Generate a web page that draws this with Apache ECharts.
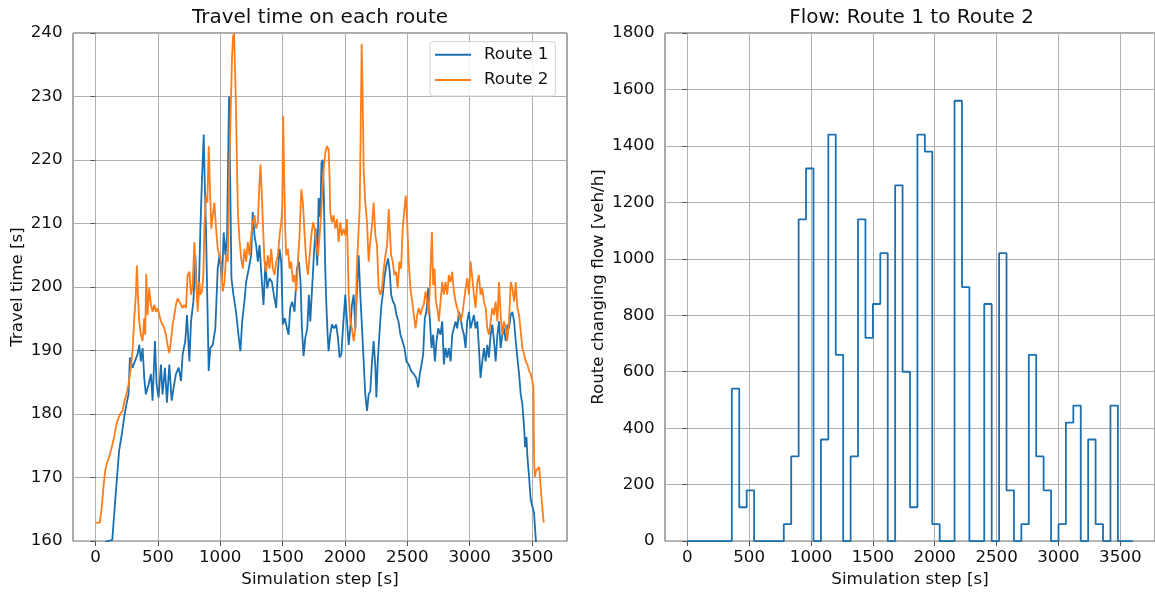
<!DOCTYPE html>
<html><head><meta charset="utf-8">
<script src="https://cdn.jsdelivr.net/npm/echarts@6/dist/echarts.min.js"></script>
<style>html,body{margin:0;padding:0;background:#fff}#c{width:1155px;height:593px}</style>
</head><body><div id="c"></div><script>
// Travel time on each route: [simulation step s, travel time s]
const route1 = [[0,155.0],[85,159.9],[135,160.2],[150,164.2],[171,169.6],[190,174.3],[212,176.9],[230,179.5],[249,181.6],[265,183.1],[276,188.9],[297,187.3],[316,188.3],[337,189.4],[351,190.9],[364,188.3],[378,190.4],[391,185.7],[404,183.1],[426,184.7],[445,186.3],[458,182.1],[477,191.5],[490,184.7],[506,182.6],[525,187.8],[538,183.1],[557,187.3],[573,181.8],[592,187.8],[611,182.1],[627,184.2],[645,186.3],[667,187.3],[686,185.2],[699,189.4],[720,191.5],[734,195.6],[753,188.3],[766,194.6],[785,197.7],[801,205.0],[812,199.3],[828,198.8],[841,209.2],[854,217.0],[868,224.0],[878,214.9],[886,209.2],[897,197.7],[908,186.8],[921,190.4],[940,190.9],[961,193.5],[980,202.9],[994,205.0],[1015,201.4],[1028,208.6],[1042,205.0],[1055,208.1],[1063,219.6],[1071,230.0],[1079,218.5],[1090,201.4],[1106,198.8],[1127,196.1],[1146,192.5],[1162,189.9],[1176,194.6],[1194,197.7],[1208,200.8],[1229,202.9],[1248,205.0],[1261,211.8],[1275,208.1],[1288,206.6],[1302,204.0],[1315,206.6],[1334,200.8],[1347,197.2],[1363,204.0],[1377,199.8],[1395,201.4],[1414,200.8],[1430,198.8],[1449,196.7],[1462,202.4],[1476,206.0],[1489,204.0],[1502,194.1],[1518,195.1],[1535,193.5],[1548,192.5],[1561,196.7],[1577,197.7],[1596,196.1],[1615,202.9],[1631,204.0],[1644,200.8],[1655,193.5],[1668,189.1],[1682,192.0],[1698,193.5],[1711,198.8],[1722,194.6],[1738,200.3],[1751,205.0],[1765,209.2],[1778,203.4],[1789,214.0],[1802,211.0],[1812,219.6],[1824,220.0],[1834,211.3],[1842,202.9],[1850,197.7],[1861,192.5],[1869,189.9],[1882,192.5],[1896,194.1],[1914,193.5],[1930,194.1],[1944,192.0],[1957,188.9],[1971,189.4],[1984,193.5],[2003,198.8],[2016,194.6],[2030,190.9],[2043,193.5],[2056,197.2],[2070,198.8],[2083,193.5],[2097,199.8],[2110,205.0],[2123,198.8],[2137,193.5],[2150,188.3],[2163,183.1],[2177,180.5],[2190,183.1],[2203,183.6],[2217,188.3],[2230,191.5],[2244,187.3],[2252,182.6],[2263,188.3],[2276,192.5],[2290,196.7],[2303,198.8],[2319,201.9],[2332,203.4],[2346,204.5],[2359,202.4],[2370,198.8],[2386,197.7],[2399,197.2],[2413,195.6],[2429,194.6],[2445,192.5],[2461,191.5],[2477,190.4],[2493,188.3],[2511,187.8],[2530,186.8],[2552,186.3],[2571,185.7],[2587,184.2],[2600,186.3],[2614,187.8],[2627,189.4],[2640,195.1],[2653,196.1],[2667,199.8],[2680,195.1],[2694,190.4],[2707,192.5],[2721,188.3],[2734,191.5],[2748,193.5],[2766,192.5],[2780,194.6],[2793,187.8],[2806,190.4],[2820,188.9],[2833,190.4],[2847,188.3],[2860,192.5],[2873,193.5],[2887,194.6],[2900,193.5],[2914,196.1],[2927,195.1],[2940,193.5],[2954,192.5],[2967,190.4],[2980,194.6],[2994,196.1],[3007,193.5],[3021,194.6],[3034,195.6],[3047,193.5],[3061,194.6],[3074,190.4],[3087,185.7],[3101,188.3],[3114,190.4],[3128,188.3],[3141,190.9],[3154,188.9],[3168,192.5],[3181,194.1],[3195,191.5],[3208,188.3],[3222,192.5],[3235,194.6],[3248,190.4],[3262,192.5],[3275,193.5],[3289,191.5],[3302,194.1],[3315,193.5],[3329,195.6],[3342,196.1],[3356,194.6],[3369,191.5],[3382,188.9],[3396,186.3],[3409,183.1],[3422,181.6],[3436,177.9],[3444,174.8],[3455,176.4],[3463,173.2],[3476,170.1],[3489,166.5],[3503,165.4],[3516,164.4],[3530,160.2],[3545,156.0],[3599,150.0]];

const route2 = [[0,162.9],[35,162.9],[51,165.4],[64,168.5],[78,171.1],[91,172.2],[110,173.2],[131,174.8],[150,176.4],[163,177.9],[177,179.0],[198,180.0],[217,180.5],[233,182.1],[249,183.1],[265,184.7],[284,187.3],[297,189.9],[311,195.1],[324,198.8],[332,203.4],[343,197.7],[351,194.6],[364,192.5],[378,191.5],[391,195.1],[399,192.5],[407,202.1],[418,195.6],[431,199.8],[445,197.2],[458,196.1],[471,197.2],[485,196.1],[498,196.7],[512,195.6],[525,194.6],[538,194.1],[552,193.5],[565,192.5],[578,190.9],[592,189.6],[605,191.5],[619,194.1],[632,195.6],[645,197.2],[659,198.2],[672,198.2],[686,197.2],[699,196.7],[712,197.2],[726,196.7],[739,201.9],[753,202.4],[766,198.8],[779,200.3],[793,207.1],[806,201.4],[820,196.1],[833,200.8],[841,198.8],[854,199.3],[865,201.9],[873,209.2],[886,214.4],[897,213.3],[908,222.2],[919,214.9],[929,209.2],[940,211.3],[953,213.3],[967,209.2],[980,206.0],[994,205.0],[1007,204.0],[1020,199.3],[1034,200.8],[1047,205.0],[1061,204.0],[1074,219.6],[1087,230.0],[1095,236.3],[1103,239.4],[1111,240.0],[1119,234.2],[1127,227.9],[1135,218.5],[1143,211.3],[1154,207.6],[1168,204.5],[1181,202.9],[1194,206.0],[1208,204.0],[1221,207.1],[1235,205.0],[1248,208.1],[1261,210.2],[1275,211.3],[1288,209.2],[1302,210.2],[1315,216.5],[1323,219.3],[1334,214.4],[1342,210.2],[1355,204.0],[1369,202.4],[1382,205.0],[1395,202.9],[1409,206.0],[1422,202.9],[1436,201.9],[1449,204.0],[1462,205.0],[1476,208.1],[1489,210.2],[1497,212.3],[1505,226.9],[1513,217.0],[1521,209.2],[1529,205.0],[1543,206.0],[1556,202.9],[1569,204.0],[1583,200.8],[1596,201.9],[1610,199.3],[1623,204.0],[1636,208.1],[1650,215.4],[1663,213.3],[1677,208.1],[1690,204.0],[1703,201.9],[1717,205.0],[1730,208.1],[1744,210.2],[1757,209.2],[1771,206.6],[1784,205.0],[1797,208.1],[1810,212.0],[1829,218.5],[1842,221.1],[1856,222.2],[1869,221.7],[1877,217.0],[1882,211.8],[1896,210.2],[1909,211.3],[1923,209.2],[1936,210.7],[1950,207.1],[1963,210.2],[1976,208.1],[1990,209.2],[2003,208.1],[2016,210.7],[2030,198.8],[2043,194.6],[2056,193.5],[2070,191.5],[2083,193.5],[2097,204.0],[2110,209.2],[2118,212.3],[2126,224.8],[2134,238.3],[2142,230.0],[2150,218.5],[2163,213.3],[2177,210.2],[2190,204.0],[2203,207.1],[2217,209.7],[2230,213.3],[2244,208.1],[2257,206.6],[2270,199.8],[2284,198.8],[2297,199.8],[2311,202.9],[2324,205.0],[2338,206.6],[2351,212.3],[2359,209.2],[2370,205.0],[2383,204.0],[2396,201.9],[2410,202.4],[2423,199.8],[2437,204.0],[2450,202.9],[2463,209.2],[2477,212.3],[2488,214.4],[2499,210.2],[2511,204.0],[2525,199.8],[2539,197.7],[2552,195.6],[2566,193.5],[2579,195.6],[2592,196.7],[2606,195.6],[2619,196.7],[2632,197.2],[2646,199.3],[2659,197.7],[2672,195.6],[2686,202.9],[2697,208.7],[2707,200.3],[2718,202.9],[2729,197.7],[2740,196.7],[2753,194.6],[2766,197.7],[2780,200.8],[2793,198.8],[2806,200.8],[2820,198.8],[2833,201.9],[2847,200.8],[2860,202.4],[2873,199.3],[2887,197.7],[2900,196.7],[2914,195.6],[2927,194.6],[2940,195.6],[2954,197.7],[2967,199.8],[2980,201.4],[2994,198.8],[3007,204.0],[3021,201.4],[3034,198.8],[3047,196.7],[3061,200.8],[3074,201.9],[3087,198.8],[3101,199.8],[3114,197.7],[3128,196.7],[3141,193.5],[3154,192.5],[3168,194.6],[3181,196.7],[3195,195.6],[3208,197.7],[3222,194.6],[3235,200.8],[3248,195.6],[3262,192.5],[3275,194.6],[3289,193.5],[3302,191.5],[3315,194.6],[3329,200.8],[3342,199.8],[3356,197.7],[3369,200.8],[3382,196.7],[3396,195.6],[3409,193.0],[3422,190.4],[3436,189.4],[3449,188.3],[3463,187.8],[3476,186.8],[3489,186.3],[3503,185.2],[3511,184.2],[3516,172.7],[3522,170.1],[3532,171.1],[3543,171.4],[3557,171.7],[3565,171.7],[3575,167.0],[3586,164.4],[3594,162.9]];

// Flow Route 1 -> Route 2, per 60 s bin
const flowBinStart = [0,60,120,180,240,300,360,420,480,540,600,660,720,780,840,900,960,1020,1080,1140,1200,1260,1320,1380,1440,1500,1560,1620,1680,1740,1800,1860,1920,1980,2040,2100,2160,2220,2280,2340,2400,2460,2520,2580,2640,2700,2760,2820,2880,2940,3000,3060,3120,3180,3240,3300,3360,3420,3480,3540];
const flowValues = [0,0,0,0,0,0,540,120,180,0,0,0,0,60,300,1140,1320,0,360,1440,660,0,300,1140,720,840,1020,0,1260,600,120,1440,1380,60,0,0,1560,900,0,0,840,0,1020,180,0,60,660,300,180,0,60,420,480,0,360,60,0,480,0,0];
const flowEnd = [3600, 0];

const xTickValues = [0,500,1000,1500,2000,2500,3000,3500];
const seriesNames = ['Route 1','Route 2'];
const titles = ['Travel time on each route','Flow: Route 1 to Route 2'];

const FONT = 'DejaVu Sans';
const TXT = '#111';
const SPINE = '#555';
const GRIDC = '#b0b0b0';
const BLUE = '#1a70b0', ORANGE = '#ff7d1a';

const flowData = flowBinStart.map((t, i) => [t, flowValues[i]]).concat([flowEnd]);
const plain = v => String(v);

function makeX(gi){
  return {
    type:'value', gridIndex:gi, min:-180, max:3780, splitNumber:8,
    name:'Simulation step [s]', nameLocation:'middle', nameGap:28.5,
    nameTextStyle:{fontFamily:FONT, fontSize:16.7, color:TXT},
    axisLine:{show:false},
    axisTick:{show:true, length:5, customValues:xTickValues, lineStyle:{color:SPINE, width:1}},
    axisLabel:{margin:8, fontFamily:FONT, fontSize:16.7, color:TXT, showMinLabel:false, showMaxLabel:false, formatter:plain},
    splitLine:{show:true, lineStyle:{color:GRIDC, width:1}}
  };
}
function makeY(gi, min, max, interval, name, gap){
  return {
    type:'value', gridIndex:gi, min:min, max:max, interval:interval,
    name:name, nameLocation:'middle', nameGap:gap,
    nameTextStyle:{fontFamily:FONT, fontSize:16.7, color:TXT},
    axisLine:{show:false},
    axisTick:{show:true, length:5, lineStyle:{color:SPINE, width:1}},
    axisLabel:{margin:10.5, fontFamily:FONT, fontSize:16.7, color:TXT, formatter:plain},
    splitLine:{show:true, lineStyle:{color:GRIDC, width:1}}
  };
}

const chart = echarts.init(document.getElementById('c'), null, {renderer:'canvas'});
chart.setOption({
  animation:false,
  backgroundColor:'#fff',
  textStyle:{fontFamily:FONT},
  title:[
    {text:titles[0], left:320, top:7.7, textAlign:'center', padding:0, textStyle:{fontFamily:FONT, fontSize:20, fontWeight:'normal', color:TXT}},
    {text:titles[1], left:911.5, top:7.7, textAlign:'center', padding:0, textStyle:{fontFamily:FONT, fontSize:20, fontWeight:'normal', color:TXT}}
  ],
  legend:{
    data:seriesNames, orient:'vertical', left:430, top:41.7,
    icon:'rect', itemWidth:36, itemHeight:2, itemGap:8.3,
    padding:[4.5,7,7.5,5],
    borderColor:'#d4d4d4', borderWidth:1, borderRadius:3,
    backgroundColor:'rgba(255,255,255,0.85)',
    textStyle:{fontFamily:FONT, fontSize:16.7, lineHeight:17, color:TXT, padding:[0,0,0,8]}
  },
  grid:[
    {left:73, top:33, width:494, height:510.5, show:true, borderColor:SPINE, borderWidth:1, backgroundColor:'transparent'},
    {left:665, top:33, width:494, height:510.5, show:true, borderColor:SPINE, borderWidth:1, backgroundColor:'transparent'}
  ],
  xAxis:[makeX(0), makeX(1)],
  yAxis:[
    makeY(0, 160, 240, 10, 'Travel time [s]', 47),
    makeY(1, 0, 1800, 200, 'Route changing flow [veh/h]', 58)
  ],
  series:[
    {name:seriesNames[0], type:'line', xAxisIndex:0, yAxisIndex:0, data:route1, symbol:'none', showSymbol:false, clip:true,
     lineStyle:{color:BLUE, width:1.8}, itemStyle:{color:BLUE}},
    {name:seriesNames[1], type:'line', xAxisIndex:0, yAxisIndex:0, data:route2, symbol:'none', showSymbol:false, clip:true,
     lineStyle:{color:ORANGE, width:1.8}, itemStyle:{color:ORANGE}},
    {name:'flow', type:'line', xAxisIndex:1, yAxisIndex:1, data:flowData, step:'end', symbol:'none', showSymbol:false, clip:true,
     lineStyle:{color:BLUE, width:1.8}, itemStyle:{color:BLUE}}
  ]
});
</script></body></html>
